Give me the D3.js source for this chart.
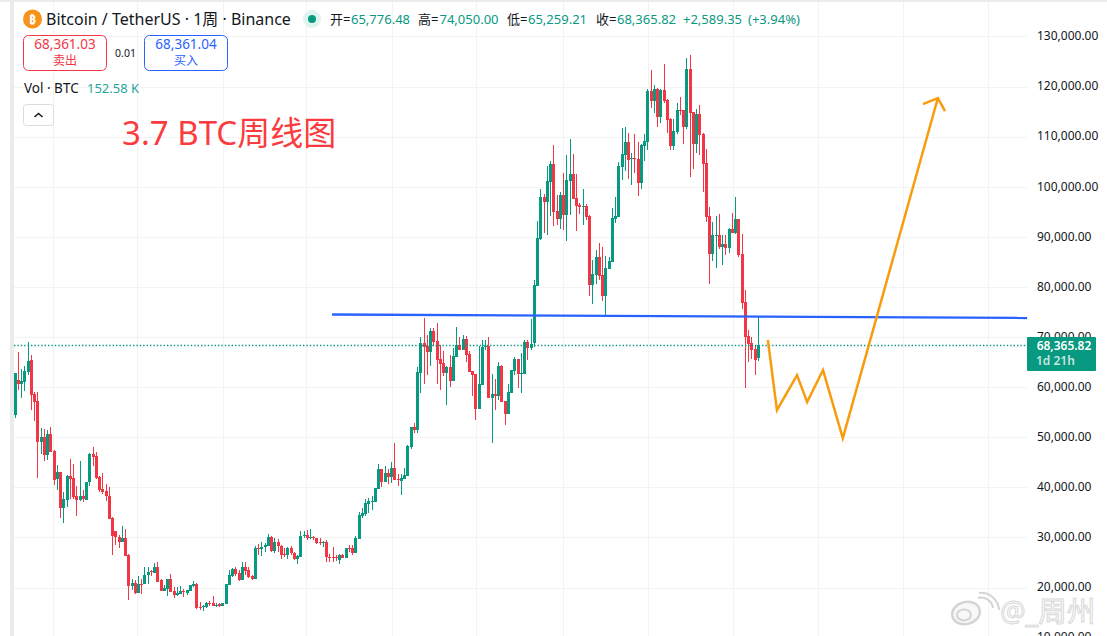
<!DOCTYPE html>
<html>
<head>
<meta charset="utf-8">
<script src="https://cdn.jsdelivr.net/npm/d3@7"></script>
<style>
  html, body { margin: 0; padding: 0; background: #fff; overflow: hidden; }
  text { font-family: "Noto Sans", "Noto Sans CJK SC", sans-serif; }
</style>
</head>
<body>
<div id="chart"></div>
<script>
// weekly BTC candles in thousands of USDT
const weekOpen = [
  54.4,61.4,60.6,61.1,63.1,65.4,58.6,57.2,49.1,50.0,
  46.5,50.6,47.3,41.6,43.1,35.9,37.5,42.3,41.9,38.3,
  37.5,38.3,37.5,41.0,46.7,46.2,42.1,39.7,39.3,38.3,
  33.9,31.3,30.1,29.1,29.9,26.5,20.3,20.8,19.0,20.7,
  20.6,22.4,23.2,22.8,24.0,21.5,19.3,19.8,21.7,19.3,
  18.5,18.7,19.3,18.9,19.3,20.3,20.7,16.1,16.2,16.1,
  16.9,16.9,16.5,16.7,16.3,16.7,20.5,22.3,23.7,22.9,
  21.5,24.1,23.5,22.3,21.7,27.9,27.7,28.1,28.3,30.1,
  27.3,29.1,28.3,26.7,26.5,27.9,26.9,25.7,26.1,30.3,
  30.5,29.9,30.1,29.9,29.1,28.9,29.1,26.1,26.1,26.1,
  25.5,26.5,25.9,27.9,27.9,26.9,29.7,34.3,34.7,36.7,
  37.2,37.1,39.7,43.7,41.1,42.9,42.1,43.9,41.7,41.3,
  41.7,42.3,48.0,52.1,51.5,62.8,68.8,68.2,67.0,71.2,
  69.2,65.6,64.8,62.8,64.0,61.2,66.0,68.4,67.4,69.6,
  66.7,63.2,62.6,55.6,60.4,68.0,68.2,57.8,58.6,58.2,
  64.2,57.2,54.6,58.8,63.2,65.6,62.6,62.6,69.0,67.8,
  68.8,80.2,89.6,97.9,97.0,100.9,104.5,95.2,93.6,98.3,
  94.4,101.1,102.5,97.7,96.3,96.0,96.1,94.2,80.4,82.4,
  86.0,82.4,78.2,83.6,85.0,93.6,94.0,103.9,106.3,108.9,
  105.5,105.7,105.5,100.8,108.1,109.0,119.1,117.1,119.5,113.9,
  119.3,117.3,113.5,108.1,111.0,115.3,115.3,111.9,123.5,114.9,
  108.5,114.5,110.5,104.7,94.1,86.6,90.3,90.4,88.0,88.6,
  87.8,91.6,90.8,93.6,86.6,77.0,70.2,68.8,67.6,65.78
];
const weekClose = [
  62.75,60.6,61.2,63.2,65.3,58.5,57.0,49.1,50.0,46.5,
  50.6,47.1,41.5,43.1,35.9,37.7,42.3,41.7,38.1,37.5,
  38.3,37.6,41.1,46.7,46.1,41.9,39.5,39.1,38.3,33.7,
  30.3,30.1,29.1,29.9,26.3,20.3,20.8,19.0,20.7,20.6,
  22.5,23.1,23.0,24.0,21.1,19.3,19.9,21.7,19.1,18.5,
  18.9,19.3,19.1,19.5,20.5,20.7,15.9,15.9,16.3,16.9,
  16.7,16.3,16.6,16.3,16.9,20.7,22.5,23.7,22.7,21.5,
  24.1,23.3,22.1,21.7,27.9,27.7,28.1,28.5,30.1,27.3,
  29.1,28.3,26.5,26.5,27.9,26.9,25.7,26.3,30.3,30.5,
  29.9,30.1,29.9,28.9,28.9,29.1,26.0,25.9,25.9,25.9,
  26.5,25.9,27.9,27.7,26.9,29.9,34.5,34.9,36.9,37.3,
  37.3,39.9,43.7,41.1,42.9,42.1,43.8,41.5,41.5,41.9,
  42.5,48.2,52.1,51.5,63.0,68.8,68.0,67.0,71.2,69.0,
  65.4,64.6,62.8,64.0,61.2,66.2,68.4,67.4,69.6,66.4,
  63.0,62.4,55.6,60.6,68.0,68.2,57.8,58.6,58.2,64.2,
  57.0,54.6,59.0,63.4,65.6,62.6,62.8,69.0,67.8,68.6,
  80.4,89.8,97.9,97.0,101.1,104.5,95.0,93.6,98.3,94.4,
  101.3,102.5,97.5,96.1,96.0,96.2,94.0,80.4,82.6,86.0,
  82.2,78.2,83.8,85.2,93.8,94.2,104.1,106.5,108.9,105.3,
  105.7,105.5,100.8,108.3,109.1,119.1,117.1,119.5,113.9,119.3,
  117.1,113.3,108.1,111.1,115.3,115.1,111.9,123.5,114.8,108.5,
  114.5,110.3,104.5,93.9,86.6,90.4,90.4,88.0,88.6,87.8,
  91.6,90.8,93.6,86.4,76.8,70.0,68.6,67.4,65.4,68.366
];
const weekHigh = [
  62.75,67.0,63.6,64.2,69.0,66.4,59.0,59.1,51.8,51.6,
  51.4,52.0,47.5,44.5,43.1,39.0,42.5,45.7,44.7,40.3,
  45.3,39.5,41.1,46.9,48.1,47.0,42.3,42.9,40.7,40.1,
  34.1,31.3,30.5,32.3,31.7,26.7,21.7,21.5,22.3,21.6,
  24.0,24.0,23.5,24.9,25.1,21.7,20.5,21.7,22.7,20.1,
  20.1,20.3,19.8,19.5,20.5,21.3,20.9,17.1,16.5,17.1,
  17.3,18.3,16.9,16.9,16.9,20.7,23.5,23.9,24.1,23.5,
  25.1,25.1,24.1,22.5,28.3,28.7,29.1,28.9,30.7,30.3,
  29.9,29.7,28.5,27.9,28.1,28.3,27.1,26.5,31.3,31.3,
  31.4,31.7,30.3,29.9,29.9,29.2,29.5,26.7,28.1,26.5,
  26.7,26.7,27.9,28.5,28.5,30.3,35.1,35.8,37.7,37.9,
  38.3,39.9,44.6,43.7,44.2,43.7,45.1,48.8,42.7,42.7,
  43.9,48.4,52.1,52.9,64.0,70.0,73.8,70.4,71.8,71.8,
  72.8,68.4,67.2,64.2,66.4,67.8,72.0,70.0,70.4,70.2,
  67.2,63.2,62.6,68.2,69.4,69.4,70.0,62.6,61.6,65.0,
  64.4,57.2,60.6,63.4,66.0,65.6,66.8,69.4,69.4,73.6,
  81.4,93.2,99.5,98.5,104.1,105.1,108.3,98.3,98.9,102.7,
  106.3,109.5,106.5,102.5,96.8,99.5,96.5,94.4,85.4,87.4,
  88.8,88.0,86.2,86.0,95.8,97.9,104.9,111.8,112.0,110.7,
  106.7,110.5,108.9,108.5,110.5,119.5,123.3,120.3,119.7,119.5,
  124.5,117.5,113.7,113.5,116.7,117.9,115.3,125.7,126.3,114.9,
  115.5,116.3,110.7,107.5,95.9,93.0,94.1,94.5,90.4,90.4,
  91.8,94.8,97.9,93.6,90.6,79.4,71.4,70.0,68.4,74.05
];
const weekLow = [
  53.9,59.4,57.8,59.2,62.4,55.4,53.2,41.9,46.7,45.3,
  45.5,47.0,40.5,39.5,33.9,32.9,36.1,37.7,37.7,34.3,
  37.3,37.0,37.5,40.3,44.3,41.7,39.1,38.7,37.3,33.7,
  26.5,28.5,27.9,29.1,26.3,17.5,19.5,18.8,19.0,18.7,
  20.6,20.6,22.3,22.8,21.1,19.3,19.3,18.3,19.1,17.9,
  18.3,18.7,18.2,18.5,19.3,20.1,15.7,15.6,15.4,15.9,
  16.3,16.3,16.1,16.1,16.3,16.7,20.5,22.1,22.3,21.3,
  21.5,22.5,21.9,21.5,21.7,26.5,26.3,27.1,28.3,27.1,
  26.9,27.1,25.7,26.1,25.7,26.5,25.5,24.7,26.1,29.9,
  29.5,29.7,29.5,28.7,28.5,28.1,25.1,25.1,25.1,25.3,
  24.7,25.8,25.9,27.1,26.5,26.9,29.7,33.9,34.3,34.9,
  35.5,37.1,39.7,40.1,41.1,40.7,40.9,41.5,40.3,38.5,
  41.7,42.3,47.7,50.9,50.9,58.8,60.6,62.4,64.2,68.2,
  60.6,59.4,62.2,56.4,60.0,61.2,66.0,67.4,67.4,65.0,
  63.0,58.2,53.4,55.6,60.4,67.4,57.8,48.9,55.4,57.4,
  57.0,52.4,54.6,58.8,62.4,59.8,58.8,62.6,65.4,67.4,
  68.0,80.2,89.4,90.8,90.4,94.2,92.2,92.4,91.6,91.4,
  89.2,94.4,97.5,91.2,94.5,92.4,93.4,78.2,76.6,80.6,
  81.4,77.2,74.4,83.6,85.0,92.8,94.0,101.3,103.1,101.5,
  100.4,102.8,98.2,99.6,105.1,107.4,115.7,114.7,111.9,112.7,
  116.7,110.7,107.3,107.3,110.5,114.3,108.5,111.5,102.0,103.5,
  106.7,106.3,99.0,93.0,80.6,85.2,83.8,87.6,84.4,86.4,
  86.8,90.8,90.6,86.0,75.6,59.8,65.0,65.6,62.4,65.26
];

const priceTicks = [10,20,30,40,50,60,70,80,90,100,110,120,130];
const timeGrid = [11.8,37.7,64.2,89.8,116.3,142.1,169,195.2,221.4,247.6,273.8,300];
const lastPrice = 68.366;

// hand-drawn lines on the chart, as [week, price]
const blueLine = [[97.8,74.49],[312,73.8]];
const orangeLine = [[232.1,69.4],[234.9,55.4],[241.1,62.4],[244.2,57.0],[249.1,63.4],[255.2,49.8],[284.5,117.7]];
const orangeHead = [[279.9,116.5],[284.5,117.7],[286.7,115.1]];

const ohlcLabels = [
    {t: '开=', x: 330, c: '#131722'}, {t: '65,776.48', x: 351, c: '#089981'},
    {t: '高=', x: 418, c: '#131722'}, {t: '74,050.00', x: 439.5, c: '#089981'},
    {t: '低=', x: 507, c: '#131722'}, {t: '65,259.21', x: 528, c: '#089981'},
    {t: '收=', x: 596, c: '#131722'}, {t: '68,365.82', x: 617, c: '#089981'},
    {t: '+2,589.35', x: 683, c: '#089981'}, {t: '(+3.94%)', x: 748, c: '#089981'}
];

const upColor = '#089981', downColor = '#f23645';
const wd = 1107, ht = 636;
const paneLeft = 14, paneTop = 2, paneRight = 1027;

const svg = d3.select('#chart').append('svg')
    .attr('width', wd)
    .attr('height', ht)
    .style('display', 'block');

const x = d3.scaleLinear().domain([0, 229]).range([14.7, 757.8]);
const y = d3.scaleLinear().domain([10, 130]).range([637.6, 36.4]);

// window chrome
svg.append('rect').attr('x', 10).attr('y', 0).attr('width', 4).attr('height', ht).attr('fill', '#ebebeb');
svg.append('rect').attr('x', 0).attr('y', 0).attr('width', wd).attr('height', 2).attr('fill', '#ebebeb');

// grid
const grid = svg.append('g').attr('shape-rendering', 'crispEdges').attr('stroke', '#f3f3f3');
grid.selectAll('.gh').data(priceTicks).enter().append('line')
    .attr('x1', paneLeft).attr('x2', paneRight)
    .attr('y1', d => Math.round(y(d)) + 0.5).attr('y2', d => Math.round(y(d)) + 0.5);
grid.selectAll('.gv').data(timeGrid).enter().append('line')
    .attr('y1', paneTop).attr('y2', ht)
    .attr('x1', d => Math.round(x(d)) + 0.5).attr('x2', d => Math.round(x(d)) + 0.5);

// price axis
const axis = svg.append('g')
    .attr('transform', 'translate(1027,-0.5)')
    .call(d3.axisRight(y).tickValues(priceTicks).tickSize(0).tickPadding(10)
        .tickFormat(d => d3.format(',.2f')(d * 1000)));
axis.select('.domain').remove();
axis.selectAll('text')
    .style('font-family', '"Noto Sans", sans-serif')
    .style('font-size', '12px')
    .attr('fill', '#131722');

// candles
svg.append('clipPath').attr('id', 'pane').append('rect')
    .attr('x', paneLeft).attr('y', paneTop)
    .attr('width', paneRight - paneLeft).attr('height', ht - paneTop);

const candles = svg.append('g').attr('clip-path', 'url(#pane)').attr('shape-rendering', 'crispEdges');
const elem = candles.selectAll('g').data(weekOpen).enter().append('g')
    .attr('fill', (d, i) => weekClose[i] >= d ? upColor : downColor);
elem.append('rect')
    .attr('x', (d, i) => Math.round(x(i)))
    .attr('width', 1)
    .attr('y', (d, i) => y(weekHigh[i]))
    .attr('height', (d, i) => y(weekLow[i]) - y(weekHigh[i]));
elem.append('rect')
    .attr('x', (d, i) => Math.round(x(i)) - 1)
    .attr('width', 3)
    .attr('y', (d, i) => y(Math.max(d, weekClose[i])))
    .attr('height', (d, i) => Math.max(1, Math.abs(y(d) - y(weekClose[i]))));

// last price line
svg.append('line')
    .attr('x1', paneLeft).attr('x2', paneRight)
    .attr('y1', Math.round(y(lastPrice)) + 0.5).attr('y2', Math.round(y(lastPrice)) + 0.5)
    .attr('stroke', upColor)
    .attr('stroke-width', 1.4)
    .attr('stroke-dasharray', '1.4 2');

const line = d3.line().x(d => x(d[0])).y(d => y(d[1]));

svg.append('path').attr('d', line(blueLine))
    .attr('fill', 'none').attr('stroke', '#2962ff').attr('stroke-width', 2.4);
svg.append('path').attr('d', line(orangeLine))
    .attr('fill', 'none').attr('stroke', '#f89c0e').attr('stroke-width', 2.5);
svg.append('path').attr('d', line(orangeHead))
    .attr('fill', 'none').attr('stroke', '#f89c0e').attr('stroke-width', 2.5);

// price tag
const tag = svg.append('g');
tag.append('rect').attr('x', 1027).attr('y', 337).attr('width', 69).attr('height', 34).attr('rx', 1).attr('fill', upColor);
tag.append('text').attr('x', 1064).attr('y', 350).attr('text-anchor', 'middle')
    .attr('fill', '#fff').attr('font-size', 12).attr('font-weight', 600).text('68,365.82');
tag.append('text').attr('x', 1036).attr('y', 365)
    .attr('fill', '#c4e8e0').attr('font-size', 12).attr('font-weight', 600).text('1d 21h');

// header
svg.append('circle').attr('cx', 32.5).attr('cy', 19).attr('r', 9.5).attr('fill', '#f7931a');
svg.append('text').attr('x', 32.5).attr('y', 23.5).attr('text-anchor', 'middle')
    .attr('fill', '#fff').attr('font-size', 12).attr('font-weight', 700).text('₿');
svg.append('text').attr('x', 46).attr('y', 24.5)
    .attr('fill', '#131722').attr('font-size', 16).text('Bitcoin / TetherUS · 1周 · Binance');
svg.append('circle').attr('cx', 312).attr('cy', 19).attr('r', 9).attr('fill', '#dff3ef');
svg.append('circle').attr('cx', 312).attr('cy', 19).attr('r', 4).attr('fill', upColor);

svg.selectAll('.ohlc').data(ohlcLabels).enter().append('text')
    .attr('x', d => d.x).attr('y', 24)
    .attr('fill', d => d.c)
    .attr('font-size', 13)
    .text(d => d.t);

// buy / sell buttons
function tradeButton(left, color, price, label) {
    svg.append('rect').attr('x', left + 0.5).attr('y', 35.5).attr('width', 83).attr('height', 35).attr('rx', 5)
        .attr('fill', '#fff').attr('stroke', color);
    svg.append('text').attr('x', left + 42).attr('y', 49).attr('text-anchor', 'middle')
        .attr('fill', color).attr('font-size', 13.5).text(price);
    svg.append('text').attr('x', left + 42).attr('y', 64.5).attr('text-anchor', 'middle')
        .attr('fill', color).attr('font-size', 12).text(label);
}
tradeButton(23, '#f23645', '68,361.03', '卖出');
tradeButton(144, '#2962ff', '68,361.04', '买入');
svg.append('text').attr('x', 125.5).attr('y', 57).attr('text-anchor', 'middle')
    .attr('fill', '#131722').attr('font-size', 10.5).text('0.01');

svg.append('text').attr('x', 24).attr('y', 93).attr('fill', '#131722').attr('font-size', 13.5).text('Vol · BTC');
svg.append('text').attr('x', 87).attr('y', 93).attr('fill', '#26a69a').attr('font-size', 13).text('152.58 K');

svg.append('rect').attr('x', 23.5).attr('y', 104.5).attr('width', 30).attr('height', 21).attr('rx', 3)
    .attr('fill', '#fff').attr('stroke', '#dcdcdc');
svg.append('path').attr('d', 'M34.5 117L38.5 113.5L42.5 117')
    .attr('fill', 'none').attr('stroke', '#131722').attr('stroke-width', 1.5);

// title
svg.append('text').attr('x', 122).attr('y', 145)
    .attr('fill', '#fb3b40').attr('font-size', 33).text('3.7 BTC周线图');

// weibo watermark
const mark = svg.append('g').attr('fill', 'none').attr('stroke', '#d4d4d4');
mark.append('ellipse').attr('cx', 966).attr('cy', 613).attr('rx', 14).attr('ry', 11)
    .attr('fill', '#f8f8f8').attr('stroke-width', 2.5).attr('transform', 'rotate(-15 966 613)');
mark.append('ellipse').attr('cx', 964).attr('cy', 615).attr('rx', 7).attr('ry', 5.5).attr('stroke-width', 2);
mark.append('path').attr('d', 'M978 598a12 12 0 0 1 15 10M979 593a18 18 0 0 1 20 17').attr('stroke-width', 2);
svg.append('text').attr('x', 1000).attr('y', 622)
    .attr('font-size', 28.5)
    .attr('fill', '#fff')
    .attr('stroke', '#d8d8d8')
    .attr('stroke-width', 1)
    .text('@_周州');
</script>
</body>
</html>
